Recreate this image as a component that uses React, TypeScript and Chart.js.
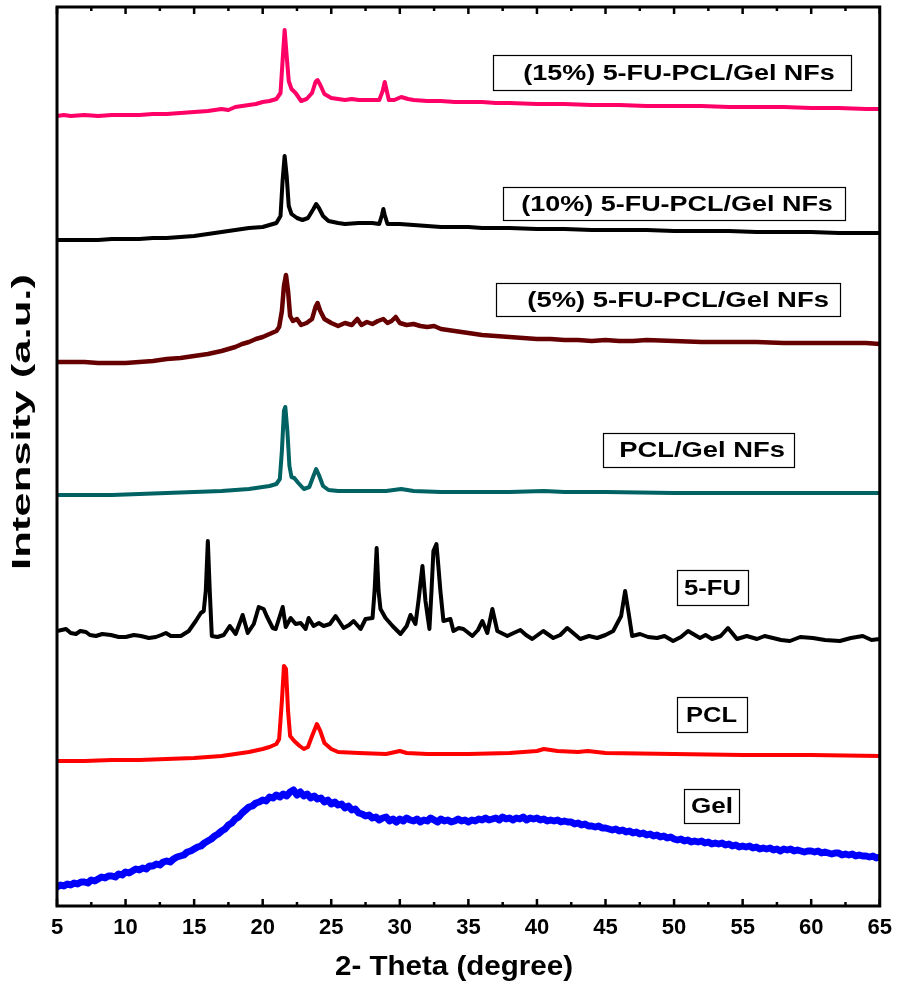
import React, { useEffect, useRef } from 'react';
import { Chart, registerables } from 'chart.js';

Chart.register(...registerables);

// ---- data (2θ in degrees, intensity in arbitrary stacked units) ----
const xTickValues = [5, 10, 15, 20, 25, 30, 35, 40, 45, 50, 55, 60, 65];
const xTitle = '2- Theta (degree)';
const yTitle = 'Intensity (a.u.)';

const fu15: [number, number][] = [
  [5, 790], [5.5, 791], [6, 790], [7, 791], [8, 790], [9, 791], [10, 791], [11, 791], [12, 792], [13, 792],
  [14, 793], [15, 794], [16, 795], [17, 797], [17.5, 796], [18, 799], [18.5, 800], [19, 801], [19.5, 802],
  [20, 804], [20.5, 805], [21, 807], [21.3, 813], [21.45, 845], [21.6, 876], [21.75, 850], [21.9, 825],
  [22.1, 817], [22.4, 813], [22.8, 805], [23.2, 807], [23.6, 813], [23.85, 824], [24.0, 826], [24.2, 821],
  [24.5, 812], [25, 808], [25.5, 807], [26, 806], [26.5, 807], [27, 806], [27.5, 806], [28, 806], [28.5, 806],
  [28.75, 815], [28.9, 824], [29.05, 815], [29.2, 806], [29.6, 806], [30.1, 809], [30.6, 807], [31, 806],
  [32, 805], [33, 805], [34, 804], [35, 804], [36, 804], [37, 803], [38, 803], [40, 802], [42, 802], [44, 801],
  [46, 801], [48, 800], [50, 800], [52, 800], [54, 799], [56, 799], [58, 799], [60, 798], [62, 798], [64, 797], [65, 797],
];

const fu10: [number, number][] = [
  [5, 666], [6, 666], [7, 666], [8, 666], [9, 667], [10, 667], [11, 667], [12, 668], [13, 668], [14, 669],
  [15, 670], [16, 672], [17, 674], [18, 676], [19, 678], [20, 679], [20.5, 681], [21, 683], [21.3, 690],
  [21.45, 725], [21.6, 750], [21.75, 730], [21.9, 700], [22.1, 692], [22.5, 688], [22.9, 686], [23.3, 688],
  [23.7, 697], [23.9, 702], [24.1, 698], [24.4, 690], [24.8, 685], [25.5, 683], [26, 682], [27, 683], [28, 683],
  [28.5, 682], [28.7, 691], [28.8, 697], [28.9, 691], [29.1, 682], [30, 682], [31, 681], [32, 680], [33, 679],
  [34, 679], [35, 679], [36, 678], [37, 678], [38, 678], [40, 677], [42, 677], [44, 676], [46, 676], [48, 676],
  [50, 675], [52, 675], [54, 675], [56, 674], [58, 674], [60, 674], [62, 673], [64, 673], [65, 673],
];

const fu5: [number, number][] = [
  [5, 544], [6, 544], [7, 544], [8, 543], [9, 543], [10, 543], [11, 544], [12, 545], [13, 547], [14, 548],
  [15, 550], [16, 552], [17, 555], [17.5, 557], [18, 559], [18.5, 562], [19, 564], [19.5, 567], [20, 569],
  [20.5, 572], [21, 575], [21.2, 579], [21.4, 595], [21.55, 620], [21.7, 631], [21.85, 615], [22, 590],
  [22.2, 585], [22.5, 587], [22.8, 581], [23.2, 583], [23.6, 587], [23.85, 599], [24.0, 603], [24.2, 595],
  [24.5, 587], [25, 583], [25.5, 580], [26, 583], [26.5, 581], [26.9, 587], [27.2, 581], [27.6, 584], [28, 582],
  [28.4, 585], [28.8, 587], [29.1, 583], [29.4, 585], [29.7, 589], [30, 583], [30.5, 581], [31, 582], [31.5, 580],
  [32, 579], [32.5, 580], [33, 577], [34, 575], [35, 573], [36, 571], [37, 570], [38, 569], [39, 568], [40, 567],
  [41, 567], [42, 566], [43, 566], [44, 565], [45, 566], [46, 565], [47, 565], [48, 566], [50, 565], [52, 564],
  [54, 564], [56, 564], [58, 563], [60, 563], [62, 563], [64, 563], [65, 562],
];

const pclGel: [number, number][] = [
  [5, 411], [7, 411], [9, 411], [11, 412], [13, 413], [15, 414], [17, 415], [18, 416], [19, 417], [20, 419],
  [20.5, 420], [21, 422], [21.25, 427], [21.4, 455], [21.55, 495], [21.65, 499], [21.8, 475], [21.95, 440],
  [22.1, 429], [22.3, 428], [22.6, 423], [23, 417], [23.4, 419], [23.7, 430], [23.9, 437], [24.1, 431],
  [24.4, 420], [24.8, 416], [25.5, 415], [27, 415], [29, 415], [30.1, 417], [31, 415], [33, 414], [35, 414],
  [38, 414], [40.5, 415], [42, 414], [45, 414], [50, 413], [55, 413], [60, 413], [65, 413],
];

const fu: [number, number][] = [
  [5.0, 275], [5.66, 277], [6.0, 273], [6.38, 272], [6.7, 275], [7.11, 274], [7.4, 271], [7.84, 270], [8.3, 272],
  [8.93, 271], [9.5, 269], [10.02, 269], [10.6, 271], [11.12, 270], [11.7, 268], [12.21, 269], [12.6, 271],
  [12.94, 273], [13.3, 270], [13.67, 270], [14.03, 270], [14.61, 275], [15.12, 285], [15.49, 293], [15.7, 295],
  [15.85, 315], [16.0, 365], [16.14, 315], [16.29, 270], [16.7, 269], [17.16, 271], [17.6, 280], [18.03, 272], [18.54, 291],
  [18.91, 273], [19.35, 282], [19.71, 299], [20.07, 297], [20.29, 290], [20.73, 278], [20.95, 277], [21.46, 299],
  [21.68, 279], [22.04, 288], [22.4, 282], [22.77, 283], [23.13, 277], [23.35, 288], [23.71, 280], [24.1, 283], [24.44, 280],
  [24.9, 282], [25.32, 290], [25.9, 278], [26.3, 281], [26.63, 285], [27.14, 277], [27.5, 287], [28.01, 288], [28.16, 315], [28.31, 358],
  [28.45, 315], [28.59, 297], [28.96, 288], [29.47, 280], [30.05, 272], [30.5, 280], [30.78, 291], [31.14, 282], [31.36, 305],
  [31.65, 340], [31.87, 305], [32.16, 277], [32.31, 315], [32.45, 355], [32.67, 362], [32.81, 340], [32.96, 315],
  [33.18, 285], [33.69, 287], [33.91, 275], [34.3, 278], [34.64, 277], [35.29, 270], [35.7, 276], [36.02, 285], [36.38, 273], [36.75, 297],
  [37.11, 275], [37.84, 270], [38.3, 273], [38.79, 276], [39.2, 271], [39.66, 267], [40.46, 275], [41.19, 268], [41.7, 271], [42.21, 278], [43.16, 267],
  [43.8, 270], [44.39, 268], [45.0, 271], [45.56, 275], [46.14, 290], [46.43, 315], [46.72, 290], [46.94, 270], [47.52, 272], [48.1, 269], [48.76, 268],
  [49.3, 270], [49.93, 265], [50.5, 269], [51.02, 275], [51.89, 268], [52.3, 271], [52.77, 267], [53.4, 270], [53.93, 278], [54.59, 267], [55.3, 270], [56.05, 267], [56.6, 270], [57.21, 268],
  [57.8, 266], [58.45, 265], [59.2, 269], [60.12, 268], [61.0, 266], [62.09, 265], [62.9, 268], [63.76, 270], [64.4, 266], [65.0, 267],
];

const pcl: [number, number][] = [
  [5, 145], [7, 145], [9, 146], [11, 146], [13, 147], [15, 148], [16, 149], [17, 150], [18, 152], [19, 154],
  [20, 157], [20.5, 159], [21, 162], [21.2, 167], [21.4, 205], [21.55, 240], [21.7, 237], [21.85, 195],
  [22.0, 170], [22.3, 165], [22.7, 160], [23.0, 157], [23.3, 159], [23.6, 170], [23.95, 182], [24.2, 175],
  [24.5, 163], [25, 157], [25.5, 154], [27, 153], [29, 152], [30.0, 155], [30.5, 153], [32, 152], [35, 152],
  [38, 153], [40, 155], [40.5, 157], [41.5, 155], [43, 154], [43.7, 155], [45, 153], [50, 152], [55, 151],
  [60, 151], [65, 150],
];

const gel: [number, number][] = [
  [5, 19], [5.25, 21], [5.5, 20], [5.75, 22], [6, 21], [6.25, 23], [6.5, 22], [6.75, 24], [7, 24], [7.25, 23],
  [7.5, 26], [7.75, 25], [8, 27], [8.25, 29], [8.5, 28], [8.75, 30], [9, 30], [9.25, 29], [9.5, 32], [9.75, 31],
  [10, 34], [10.25, 33], [10.5, 35], [10.75, 37], [11, 36], [11.25, 38], [11.5, 37], [11.75, 40], [12, 40],
  [12.25, 42], [12.5, 41], [12.75, 44], [13, 45], [13.25, 44], [13.5, 47], [13.75, 49], [14, 50], [14.25, 51],
  [14.5, 54], [14.75, 55], [15, 57], [15.25, 59], [15.5, 60], [15.75, 63], [16, 65], [16.25, 67], [16.5, 70],
  [16.75, 72], [17, 75], [17.25, 77], [17.5, 81], [17.75, 83], [18, 87], [18.25, 89], [18.5, 93], [18.75, 96],
  [19, 99], [19.25, 100], [19.5, 103], [19.75, 104], [20, 106], [20.25, 105], [20.5, 109], [20.75, 108],
  [21, 111], [21.25, 109], [21.5, 112], [21.75, 110], [22, 114], [22.25, 116], [22.5, 111], [22.75, 114],
  [23, 110], [23.25, 112], [23.5, 108], [23.75, 110], [24, 107], [24.25, 108], [24.5, 104], [24.75, 106],
  [25, 102], [25.25, 104], [25.5, 101], [25.75, 102], [26, 98], [26.25, 100], [26.5, 96], [26.75, 97], [27, 93],
  [27.25, 92], [27.5, 90], [27.75, 91], [28, 88], [28.25, 89], [28.5, 86], [28.75, 88], [29, 89], [29.25, 85],
  [29.5, 87], [29.75, 84], [30, 87], [30.25, 85], [30.5, 88], [30.75, 86], [31, 85], [31.25, 87], [31.5, 84],
  [31.75, 86], [32, 85], [32.25, 88], [32.5, 86], [32.75, 84], [33, 87], [33.25, 85], [33.5, 86], [33.75, 84],
  [34, 85], [34.25, 87], [34.5, 85], [34.75, 86], [35, 84], [35.25, 86], [35.5, 85], [35.75, 87], [36, 86],
  [36.25, 88], [36.5, 86], [36.75, 87], [37, 88], [37.25, 86], [37.5, 89], [37.75, 87], [38, 88], [38.25, 86],
  [38.5, 88], [38.75, 87], [39, 89], [39.25, 86], [39.5, 88], [39.75, 87], [40, 88], [40.25, 86], [40.5, 87],
  [40.75, 85], [41, 86], [41.25, 85], [41.5, 86], [41.75, 84], [42, 85], [42.25, 84], [42.5, 84], [42.75, 82],
  [43, 83], [43.25, 81], [43.5, 82], [43.75, 80], [44, 80], [44.25, 79], [44.5, 80], [44.75, 78], [45, 78],
  [45.25, 77], [45.5, 76], [45.75, 77], [46, 75], [46.25, 76], [46.5, 74], [46.75, 75], [47, 73], [47.25, 74],
  [47.5, 72], [47.75, 73], [48, 71], [48.25, 72], [48.5, 70], [48.75, 71], [49, 69], [49.25, 70], [49.5, 68],
  [49.75, 69], [50, 67], [50.25, 66], [50.5, 67], [50.75, 65], [51, 66], [51.25, 64], [51.5, 65], [51.75, 64],
  [52, 65], [52.25, 63], [52.5, 64], [52.75, 62], [53, 63], [53.25, 62], [53.5, 63], [53.75, 61], [54, 62],
  [54.25, 60], [54.5, 61], [54.75, 59], [55, 60], [55.25, 59], [55.5, 60], [55.75, 58], [56, 59], [56.25, 57],
  [56.5, 58], [56.75, 57], [57, 58], [57.25, 56], [57.5, 57], [57.75, 55], [58, 57], [58.25, 56], [58.5, 57],
  [58.75, 55], [59, 56], [59.25, 55], [59.5, 54], [59.75, 55], [60, 55], [60.25, 54], [60.5, 55], [60.75, 53],
  [61, 54], [61.25, 53], [61.5, 52], [61.75, 53], [62, 53], [62.25, 51], [62.5, 52], [62.75, 51], [63, 52],
  [63.25, 50], [63.5, 51], [63.75, 50], [64, 50], [64.25, 49], [64.5, 50], [64.75, 48], [65, 49],
];

const seriesNames = [
  '(15%) 5-FU-PCL/Gel NFs',
  '(10%) 5-FU-PCL/Gel NFs',
  '(5%) 5-FU-PCL/Gel NFs',
  'PCL/Gel NFs',
  '5-FU',
  'PCL',
  'Gel',
];
const seriesColors = ['#ff0066', '#000000', '#660000', '#006262', '#000000', '#ff0000', '#0000ff'];
const seriesData = [fu15, fu10, fu5, pclGel, fu, pcl, gel];
const seriesWidths = [4, 4, 4.5, 4, 4, 4, 7];

// label boxes in data units: [boxX0, boxX1, boxTop, boxBottom, textX0, textX1]
const labelBoxes: number[][] = [
  [36.82, 62.96, 851, 816, 39.0, 61.72],
  [37.55, 62.52, 719, 686, 38.86, 61.58],
  [37.04, 62.16, 623, 590, 39.3, 61.29],
  [44.83, 58.74, 473, 439, 46.0, 58.08],
  [50.22, 55.39, 336, 301, 50.73, 54.88],
  [50.22, 55.32, 209, 174, 50.87, 54.59],
  [50.73, 54.73, 117, 83, 51.24, 54.3],
];

const FONT = "'Liberation Sans', Arial, sans-serif";

function stretchedText(ctx: any, text: string, size: number, cx: number, cy: number, length: number, rot: number) {
  ctx.save();
  ctx.font = `bold ${size}px ${FONT}`;
  const w = ctx.measureText(text).width;
  ctx.translate(cx, cy);
  ctx.rotate(rot);
  ctx.scale(length / w, 1);
  ctx.fillStyle = '#000';
  ctx.textAlign = 'center';
  ctx.textBaseline = 'middle';
  ctx.fillText(text, 0, 0);
  ctx.restore();
}

const framePlugin = {
  id: 'frameAndLabels',
  afterDatasetsDraw(chart: any) {
    const { ctx, chartArea: a, scales } = chart;
    const xs = scales.x;
    const ys = scales.y;
    ctx.save();
    // labels
    labelBoxes.forEach((b, i) => {
      const bx0 = xs.getPixelForValue(b[0]);
      const bx1 = xs.getPixelForValue(b[1]);
      const by0 = ys.getPixelForValue(b[2]);
      const by1 = ys.getPixelForValue(b[3]);
      ctx.fillStyle = '#ffffff';
      ctx.fillRect(bx0, by0, bx1 - bx0, by1 - by0);
      ctx.strokeStyle = '#000';
      ctx.lineWidth = 1.2;
      ctx.strokeRect(Math.round(bx0) + 0.5, Math.round(by0) + 0.5, Math.round(bx1 - bx0), Math.round(by1 - by0));
      const tx0 = xs.getPixelForValue(b[4]);
      const tx1 = xs.getPixelForValue(b[5]);
      ctx.font = `bold 22px ${FONT}`;
      const w = ctx.measureText(seriesNames[i]).width;
      const sx = (tx1 - tx0) / w;
      ctx.save();
      ctx.translate(tx0, (by0 + by1) / 2 + 1);
      ctx.scale(sx, 1);
      ctx.fillStyle = '#000';
      ctx.textBaseline = 'middle';
      ctx.textAlign = 'left';
      ctx.fillText(seriesNames[i], 0, 0);
      ctx.restore();
    });
    // frame
    ctx.strokeStyle = '#000';
    ctx.lineWidth = 3;
    ctx.strokeRect(a.left, a.top, a.right - a.left, a.bottom - a.top);
    ctx.lineWidth = 2.5;
    for (let v = 5; v <= 65; v += 2.5) {
      const px = xs.getPixelForValue(v);
      const len = v % 5 === 0 ? 7 : 4;
      ctx.beginPath();
      ctx.moveTo(px, a.bottom);
      ctx.lineTo(px, a.bottom - len);
      ctx.stroke();
      ctx.beginPath();
      ctx.moveTo(px, a.top);
      ctx.lineTo(px, a.top + len);
      ctx.stroke();
    }
    // axis titles
    stretchedText(ctx, xTitle, 28, 454, 967, 238, 0);
    stretchedText(ctx, yTitle, 25, 23, 422, 296, -Math.PI / 2);
    ctx.restore();
  },
};

export default function App() {
  const ref = useRef<HTMLCanvasElement>(null);
  useEffect(() => {
    document.body.style.margin = '0';
    const canvas = ref.current;
    if (!canvas) return;
    const chart = new Chart(canvas, {
      type: 'line',
      data: {
        datasets: seriesData.map((d, i) => ({
          label: seriesNames[i],
          data: d.map(([x, y]) => ({ x, y })),
          borderColor: seriesColors[i],
          borderWidth: seriesWidths[i],
          pointRadius: 0,
          tension: 0,
          fill: false,
          borderJoinStyle: 'round' as const,
          borderCapStyle: 'round' as const,
        })),
      },
      options: {
        animation: false,
        responsive: false,
        events: [],
        layout: { padding: { top: 7, right: 21, left: 0, bottom: 0 } },
        plugins: { legend: { display: false }, tooltip: { enabled: false } },
        scales: {
          x: {
            type: 'linear',
            min: 5,
            max: 65,
            afterFit: (s: any) => { s.height = 80; },
            afterBuildTicks: (s: any) => { s.ticks = xTickValues.map((v) => ({ value: v })); },
            grid: { display: false, drawTicks: false },
            border: { display: false },
            ticks: {
              autoSkip: false,
              maxRotation: 0,
              padding: 9,
              color: '#000',
              font: { family: FONT, size: 22, weight: 'bold' },
            },
            title: { display: false, text: xTitle },
          },
          y: {
            type: 'linear',
            min: 0,
            max: 899,
            afterFit: (s: any) => { s.width = 57; },
            grid: { display: false, drawTicks: false },
            border: { display: false },
            ticks: { display: false },
            title: { display: false, text: yTitle },
          },
        },
      },
      plugins: [framePlugin],
    });
    return () => chart.destroy();
  }, []);
  return (
    <div style={{ position: 'absolute', left: 0, top: 0, width: 901, height: 986 }}>
      <canvas ref={ref} width={901} height={986} style={{ width: 901, height: 986, display: 'block' }} />
    </div>
  );
}
